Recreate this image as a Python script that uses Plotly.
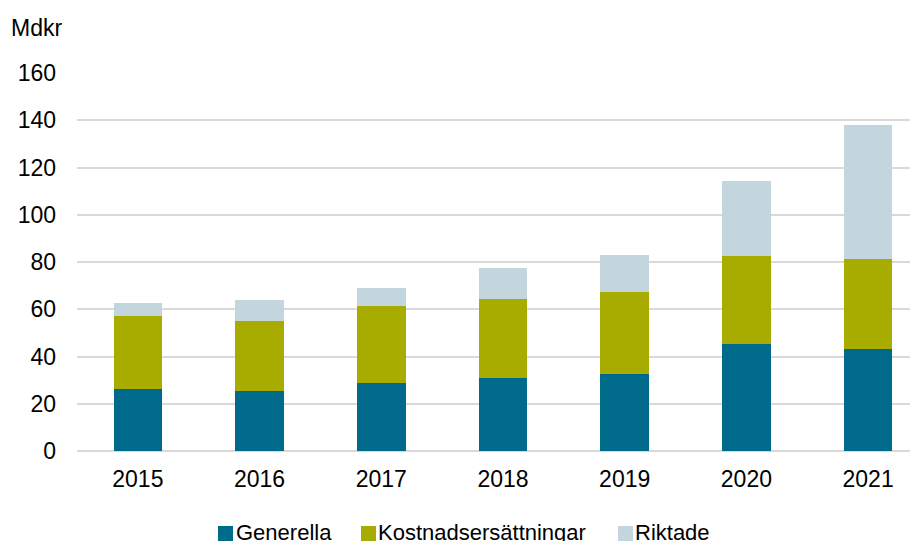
import plotly.graph_objects as go

years = ["2015", "2016", "2017", "2018", "2019", "2020", "2021"]
generella = [26.4, 25.4, 28.8, 30.9, 32.7, 45.2, 43.0]
kostnad = [30.7, 29.6, 32.5, 33.5, 34.7, 37.3, 38.1]
riktade = [5.6, 9.1, 7.9, 12.9, 15.5, 31.8, 56.9]

series = [
    ("Generella", generella, "#006A8B"),
    ("Kostnadsersättningar", kostnad, "#A8AC00"),
    ("Riktade", riktade, "#C4D6DD"),
]

# page body adds an 8px offset; figure sized to fit the window
OFF = 8
W, H = 910, 533
L, R, T, B = 69, 0, 65, 90
pw, ph = W - L - R, H - T - B


def px(x):
    return (x - OFF - L) / pw


def py(y):
    return (H - B - (y - OFF)) / ph


fig = go.Figure()
for name, vals, col in series:
    fig.add_trace(go.Bar(x=years, y=vals, name=name, marker=dict(color=col, line=dict(width=0)),
                         width=0.40, showlegend=False))

font = dict(family="Liberation Sans, Arial, sans-serif", size=23, color="#000000")
lfont = dict(family="Liberation Sans, Arial, sans-serif", size=22, color="#000000")

# manual legend (squares + labels) placed below the plot
legend_sq = [218, 361, 618]
legend_tx = [234, 376, 633]
shapes = []
annotations = [dict(text="Mdkr", xref="paper", yref="paper", x=px(9), y=py(28),
                    xanchor="left", yanchor="middle", showarrow=False, font=font)]
for (name, vals, col), sx, tx in zip(series, legend_sq, legend_tx):
    shapes.append(dict(type="rect", xref="paper", yref="paper", x0=px(sx), x1=px(sx + 15),
                       y0=py(541), y1=py(526), fillcolor=col, line=dict(width=0)))
    annotations.append(dict(text=name, xref="paper", yref="paper", x=px(tx), y=py(532),
                            xanchor="left", yanchor="middle", showarrow=False, font=lfont))

fig.update_layout(
    barmode="stack",
    width=W, height=H,
    margin=dict(l=L, r=R, t=T, b=B, autoexpand=False),
    paper_bgcolor="white", plot_bgcolor="white",
    font=font,
    showlegend=False,
    xaxis=dict(range=[-0.5, 6.41], showgrid=False, showline=False, ticks="",
               tickfont=font, ticklabelstandoff=12, fixedrange=True, automargin=False),
    yaxis=dict(range=[0, 160], dtick=20, showgrid=True, gridcolor="#D9D9D9", gridwidth=2,
               zeroline=True, zerolinecolor="#D9D9D9", zerolinewidth=2,
               showline=False, ticks="", tickfont=font, ticklabelstandoff=20, automargin=False),
    shapes=shapes,
    annotations=annotations,
)

fig.write_html("out.html")
